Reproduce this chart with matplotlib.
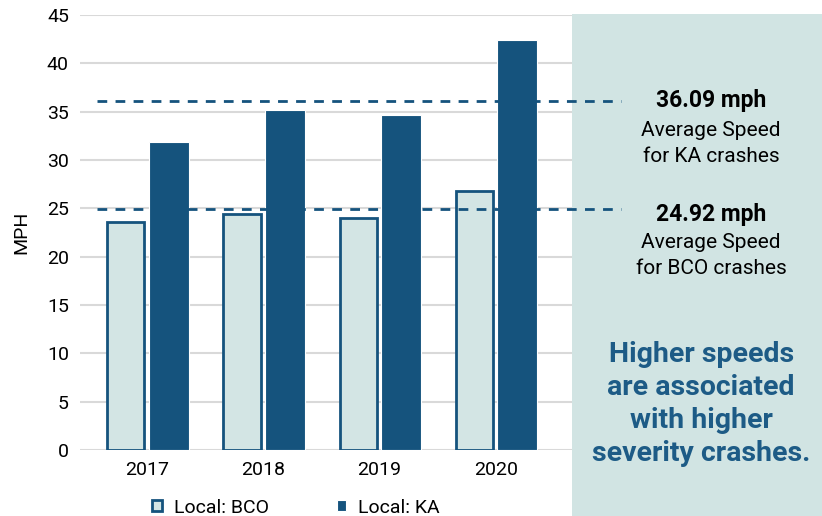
import numpy as np
import matplotlib
matplotlib.use("Agg")
import matplotlib.pyplot as plt
from matplotlib.patches import Rectangle

plt.rcParams['font.family'] = ['Roboto', 'DejaVu Sans']

years = ["2017", "2018", "2019", "2020"]
bco = [23.6, 24.4, 24.0, 26.8]
ka = [31.9, 35.2, 34.6, 42.4]
avg_ka = 36.09
avg_bco = 24.92

dark = "#15537d"
light = "#d3e5e4"

fig = plt.figure(figsize=(8.22, 5.16), dpi=100)
ax = fig.add_axes([0.0973, 0.128, 0.599, 0.843])
ax.set_facecolor("none")
ax.set_zorder(2)

# side panel
fig.patches.append(Rectangle((0.696, 0), 0.304, 0.973, transform=fig.transFigure,
                             facecolor="#d1e4e3", edgecolor="none", zorder=0))

x = np.arange(len(years))
w = 0.32
b1 = ax.bar(x - 0.185, bco, w, color=light, edgecolor=dark, linewidth=2, label="Local: BCO", zorder=3)
b2 = ax.bar(x + 0.185, ka, w + 0.02, color=dark, edgecolor="white", linewidth=0.8, label="Local: KA", zorder=3)

for v in [avg_ka, avg_bco]:
    ax.plot([-0.43, 4.08], [v, v], color=dark, lw=2, ls=(0, (3.5, 3)), clip_on=False, zorder=5)

ax.set_ylim(0, 45)
ax.set_xlim(-0.58, 3.66)
ax.set_yticks(range(0, 46, 5))
ax.set_xticks(x)
ax.set_xticklabels(years)
ax.tick_params(length=0, labelsize=14, pad=8)
ax.grid(axis="y", color="#d9d9d9", lw=1.5, zorder=0)
for s in ax.spines.values():
    s.set_visible(False)
ax.set_ylabel("MPH", fontsize=14, labelpad=12)

# annotations in panel
cx = 0.865
fig.text(cx, 1 - 101/516, "36.09 mph", ha="center", va="center", fontsize=16.5, fontweight="bold", color="black")
fig.text(cx, 1 - 130/516, "Average Speed", ha="center", va="center", fontsize=15)
fig.text(cx, 1 - 157/516, "for KA crashes", ha="center", va="center", fontsize=15)
fig.text(cx, 1 - 214/516, "24.92 mph", ha="center", va="center", fontsize=16.5, fontweight="bold", color="black")
fig.text(cx, 1 - 242/516, "Average Speed", ha="center", va="center", fontsize=15)
fig.text(cx, 1 - 269/516, "for BCO crashes", ha="center", va="center", fontsize=15)

fig.text(cx - 0.012, 1 - 404/516, "Higher speeds\nare associated\nwith higher\nseverity crashes.",
         ha="center", va="center", fontsize=20.5, fontweight="bold", color="#1d5b86", linespacing=1.3)

fig.legend(handles=[b1, b2], loc="lower center", bbox_to_anchor=(0.36, -0.035), ncol=2,
           frameon=False, fontsize=14, handlelength=0.5, handleheight=0.5, columnspacing=3.5,
           handletextpad=0.6)

fig.savefig("out.png", dpi=100)
